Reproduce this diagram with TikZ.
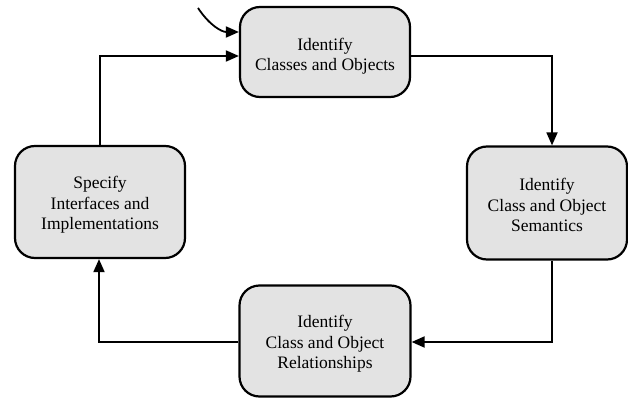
\documentclass[tikz,border=0pt]{standalone}
\usepackage{fontspec}
\setmainfont{Liberation Serif}
\usetikzlibrary{arrows.meta}
\begin{document}
\begin{tikzpicture}[x=1pt,y=-1pt,
  task/.style={draw=black, line width=2.2pt, fill=black!11, rounded corners=20pt,
    inner sep=0pt},
  caption/.style={align=center, inner sep=0pt, font=\fontsize{17.5}{20.5}\selectfont},
  flow/.style={line width=1.8pt, -{Triangle[length=13pt,width=11pt]}}]
\useasboundingbox (0,0) rectangle (628,398);
% step boxes
\node[task, minimum width=170pt, minimum height=90pt] (cls) at (325,52) {};
\node[task, minimum width=160pt, minimum height=113pt] (sem) at (547,203) {};
\node[task, minimum width=171pt, minimum height=111pt] (rel) at (325,341) {};
\node[task, minimum width=170pt, minimum height=112pt] (spec) at (100,202) {};
% step texts
\node[caption] (clsT) at (325,56) {Identify\\Classes and Objects};
\node[caption] (semT) at (547,205) {Identify\\Class and Object\\Semantics};
\node[caption] (relT) at (325,344) {Identify\\Class and Object\\Relationships};
\node[caption] (specT) at (100,205) {Specify\\Interfaces and\\Implementations};
\coordinate (start) at (198,8);
% cycle of steps
\draw[flow] (cls.east |- 0,56) -| (552,0 |- sem.north);
\draw[flow] (552,0 |- sem.south) |- (rel.east |- 0,342);
\draw[flow] (rel.west |- 0,342) -| (99,0 |- spec.south);
\draw[flow] (100,0 |- spec.north) |- (cls.west |- 0,56);
% entry arrow
\draw[flow] (start) .. controls (210,26) and (222,32) .. (cls.west |- 0,32);
\end{tikzpicture}
\end{document}
